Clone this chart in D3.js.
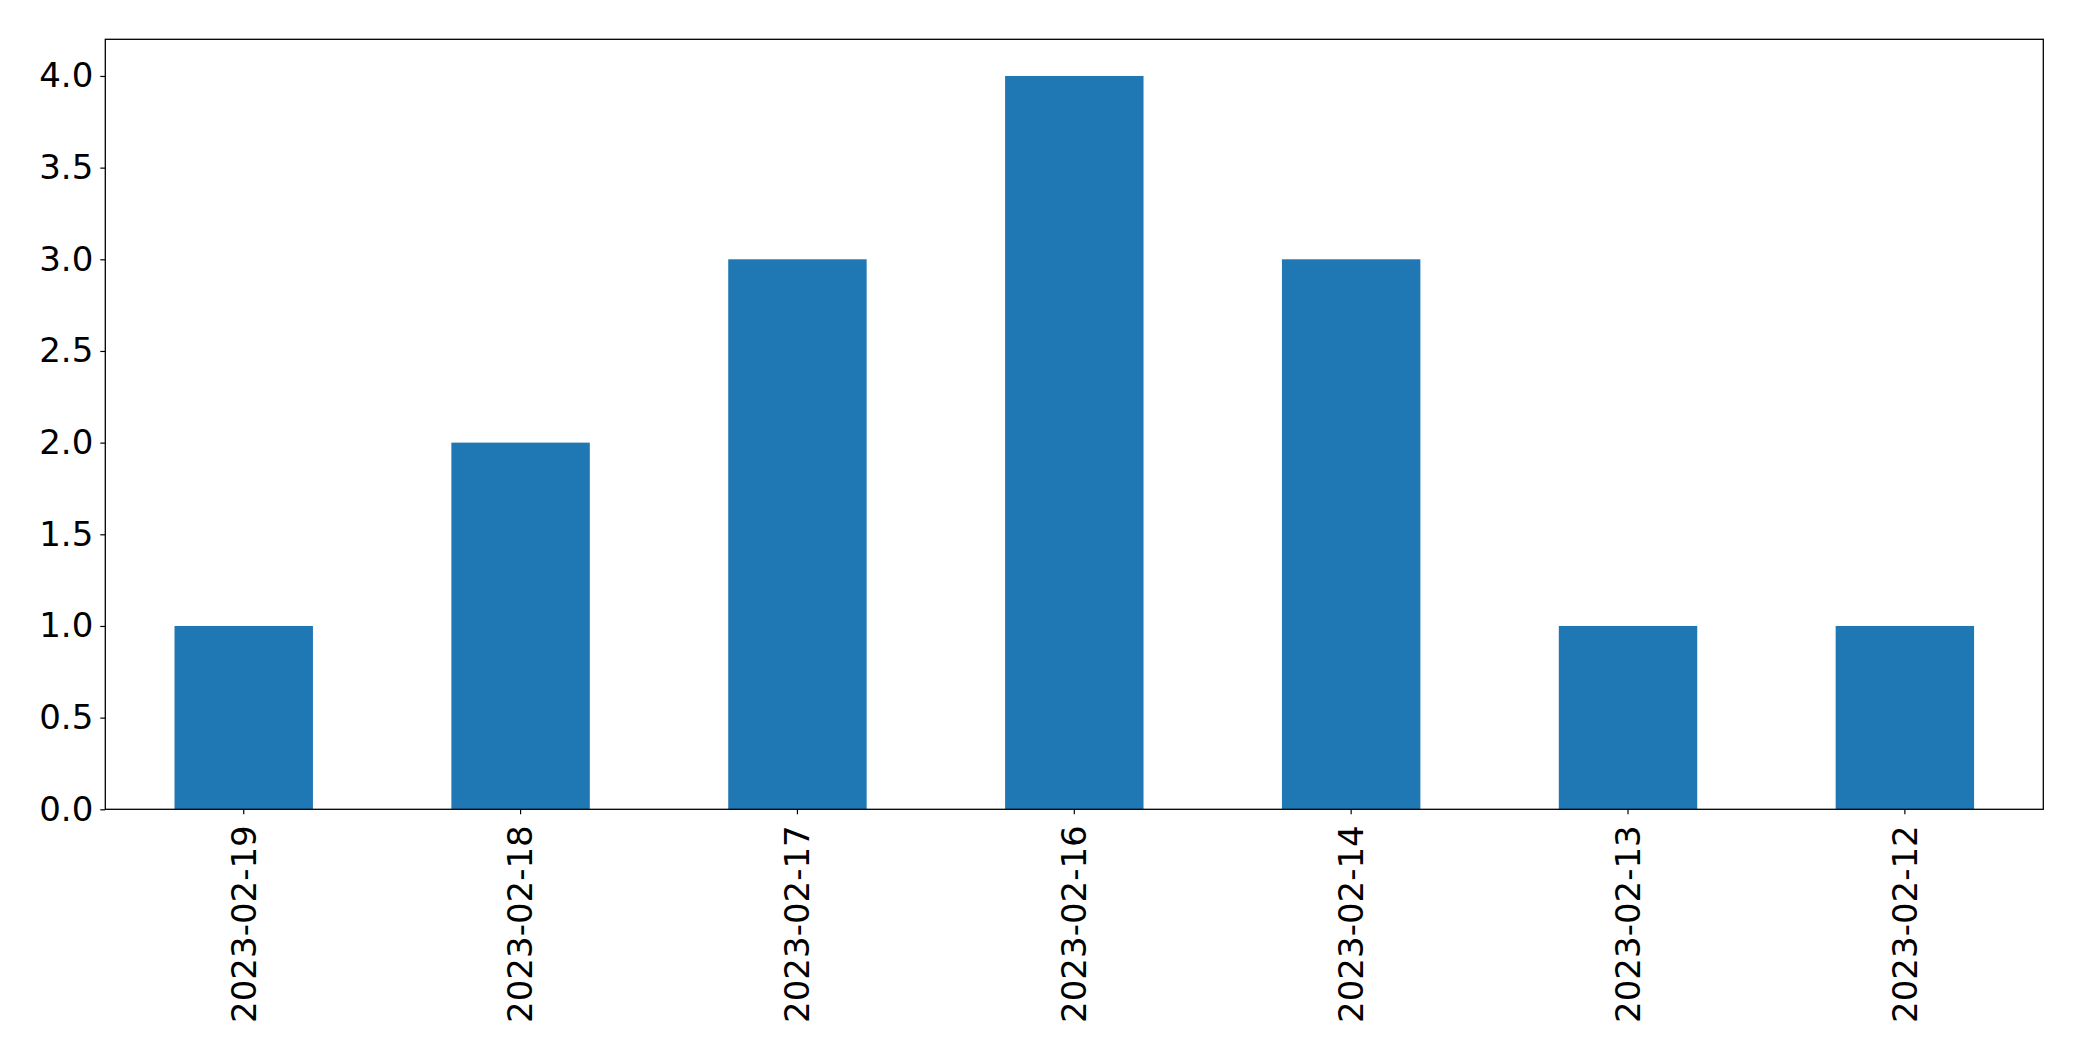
<!DOCTYPE html>
<html>
<head>
<meta charset="utf-8">
<script src="https://cdn.jsdelivr.net/npm/d3@7"></script>
<style>
  html, body { margin: 0; padding: 0; background: #fff; }
  svg { display: block; }
  text { font-family: "DejaVu Sans", sans-serif; fill: #000; }
</style>
</head>
<body>
<script>
const categories = ["2023-02-19", "2023-02-18", "2023-02-17", "2023-02-16", "2023-02-14", "2023-02-13", "2023-02-12"];
const values = [1, 2, 3, 4, 3, 1, 1];
const yTicks = [0, 0.5, 1, 1.5, 2, 2.5, 3, 3.5, 4];

const W = 2082, H = 1061;
const mLeft = 105.3, mRight = 2043.3, mTop = 39.3, mBottom = 809.3;

const svg = d3.select("body").append("svg").attr("width", W).attr("height", H);

const x = d3.scaleBand().domain(categories).range([mLeft, mRight]).paddingInner(0.5).paddingOuter(0.25);
const y = d3.scaleLinear().domain([0, 4.2]).range([mBottom, mTop]);

svg.append("g").selectAll("rect").data(values).join("rect")
  .attr("x", (d, i) => x(categories[i]))
  .attr("y", d => y(d))
  .attr("width", x.bandwidth())
  .attr("height", d => y(0) - y(d))
  .attr("fill", "#1f77b4");

const fs = 34;

const yAxis = svg.append("g").attr("transform", `translate(${mLeft},0)`)
  .call(d3.axisLeft(y).tickValues(yTicks).tickFormat(d3.format(".1f")).tickSize(5).tickPadding(7));
yAxis.select(".domain").remove();
yAxis.selectAll("line").attr("stroke", "#000").attr("stroke-width", 1.2);
yAxis.selectAll("text").attr("font-size", fs).attr("font-family", "DejaVu Sans");

const xAxis = svg.append("g").attr("transform", `translate(0,${mBottom})`)
  .call(d3.axisBottom(x).tickSize(5).tickPadding(7));
xAxis.select(".domain").remove();
xAxis.selectAll("line").attr("stroke", "#000").attr("stroke-width", 1.2);
xAxis.selectAll("text")
  .attr("font-size", fs).attr("font-family", "DejaVu Sans")
  .attr("transform", "rotate(-90)")
  .attr("x", -16).attr("y", 0).attr("dy", "0.35em")
  .attr("text-anchor", "end");

svg.append("rect")
  .attr("x", mLeft).attr("y", mTop)
  .attr("width", mRight - mLeft).attr("height", mBottom - mTop)
  .attr("fill", "none").attr("stroke", "#000").attr("stroke-width", 1.3);
</script>
</body>
</html>
